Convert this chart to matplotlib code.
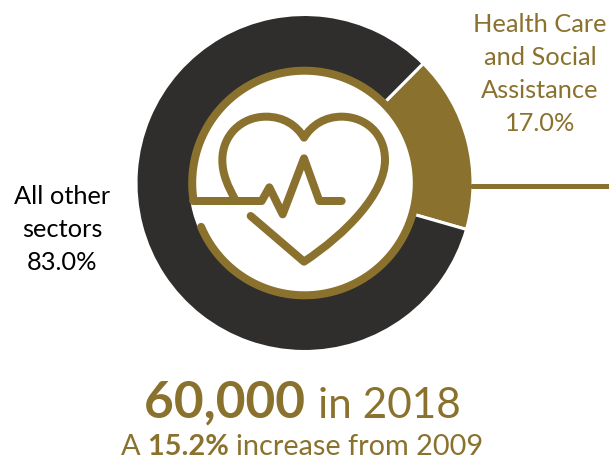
import matplotlib
matplotlib.use("Agg")
import matplotlib.pyplot as plt
import numpy as np
from matplotlib.path import Path
from matplotlib.patches import PathPatch

sectors = ["Health Care and Social Assistance", "All other sectors"]
shares = [17.0, 83.0]
GOLD = "#8A722E"
DARK = "#302E2D"
colors = [GOLD, DARK]
W, H = 609, 461
FONT = "Lato"

fig = plt.figure(figsize=(W / 100, H / 100), dpi=100, facecolor="white")
ax = fig.add_axes([0, 0, 1, 1])
Y = lambda y: H - y
px = 0.72

cx, cy, R = 304.5, 183.0, 168.5
ax.pie(shares, colors=colors, startangle=-16, counterclock=True, center=(cx, Y(cy)), radius=R,
       frame=True, wedgeprops=dict(width=R - 114, edgecolor="white", linewidth=2.2))
ax.set_xlim(0, W)
ax.set_ylim(0, H)
ax.set_aspect("equal")
ax.axis("off")


def stroke(verts, codes=None, lw=8, z=5):
    v = [(x, Y(y)) for x, y in verts]
    if codes is None:
        codes = [Path.MOVETO] + [Path.LINETO] * (len(v) - 1)
    ax.add_patch(PathPatch(Path(v, codes), fc="none", ec=GOLD, lw=lw * px,
                           capstyle="round", joinstyle="round", zorder=z))


# ring of the icon, open on the lower left
t = np.radians(np.linspace(203, 549, 300))
rr = 112.3
ring = [(cx + rr * np.cos(a), cy - rr * np.sin(a)) for a in t]
stroke(ring)

# heartbeat trace
zp = lambda x, y: (180 + x / 3, 70 + y / 3)
stroke([zp(*p) for p in [(40, 393), (245, 393), (268, 352), (308, 433), (372, 265),
                         (418, 393), (485, 393)]])

# heart outline
C4, L, M = Path.CURVE4, Path.LINETO, Path.MOVETO
heart = [(212, 438), (372, 575),
         (500, 490), (615, 370), (615, 270),
         (615, 190), (555, 140), (485, 140),
         (435, 140), (395, 165), (372, 203),
         (349, 165), (310, 140), (258, 140),
         (185, 140), (127, 195), (127, 270),
         (127, 315), (145, 350), (165, 388)]
codes = [M, L] + [C4] * 18
stroke([zp(*p) for p in heart], codes)

# labels
ax.text(540, Y(74), "Health Care\nand Social\nAssistance\n17.0%", color=GOLD, fontsize=18.3,
        family=FONT, ha="center", va="center", linespacing=1.54)
ax.text(62, Y(229.5), "All other\nsectors\n83.0%", color="black", fontsize=18.3,
        family=FONT, ha="center", va="center", linespacing=1.54)
stroke([(472, 186.5), (612, 186.5)], lw=5, z=1)


def mixed(parts, xc, ybase):
    r = fig.canvas.get_renderer()
    ts = [ax.text(0, Y(ybase), s, color=GOLD, fontsize=fs, fontweight=w, family=FONT,
                  ha="left", va="baseline") for s, fs, w in parts]
    widths = [tx.get_window_extent(r).width for tx in ts]
    total = sum(widths)
    x = xc - total / 2
    for tx, wd in zip(ts, widths):
        tx.set_x(x)
        x += wd


mixed([("60,000 ", 37, "bold"), ("in 2018", 30.5, "normal")], 302.5, 418)
mixed([("A ", 20.8, "normal"), ("15.2% ", 20.8, "bold"), ("increase from 2009", 20.8, "normal")], 302, 455)

fig.savefig("out.png", dpi=100, facecolor="white")
